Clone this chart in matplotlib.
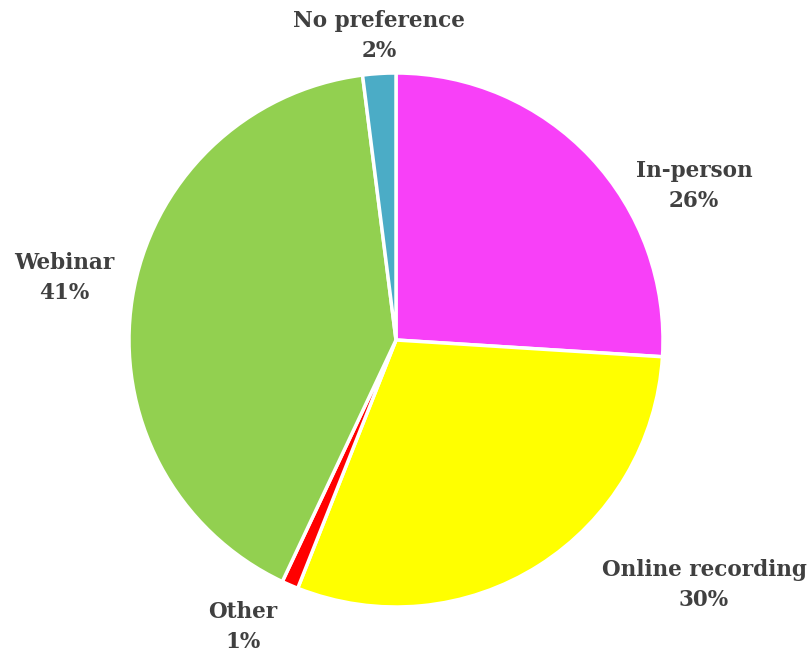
import matplotlib.pyplot as plt

labels = ['In-person', 'Online recording', 'Other', 'Webinar', 'No preference']
shares = [26, 30, 1, 41, 2]
colors = ['#F840F8', '#FFFF00', '#FF0000', '#92D050', '#4BACC6']

# label anchor points (pixels from top-left)
label_xy = [(694, 186), (704, 585), (243, 627), (64, 278), (379, 36)]

W, H = 811, 659
fig = plt.figure(figsize=(W / 100, H / 100), dpi=100)
ax = fig.add_axes([0, 0, 1, 1])
ax.set_xlim(0, W)
ax.set_ylim(0, H)
ax.set_aspect('equal')
ax.axis('off')

ax.pie(shares, colors=colors, startangle=90, counterclock=False,
       center=(396, H - 340), radius=267,
       wedgeprops=dict(edgecolor='white', linewidth=2.5))
ax.set_xlim(0, W)
ax.set_ylim(0, H)

for lab, val, (x, y) in zip(labels, shares, label_xy):
    ax.text(x, H - y, f'{lab}\n{val}%', ha='center', va='center',
            fontsize=15.5, fontweight='bold', family='DejaVu Serif',
            color='#404040', linespacing=1.5)

fig.savefig('out.png', dpi=100)
